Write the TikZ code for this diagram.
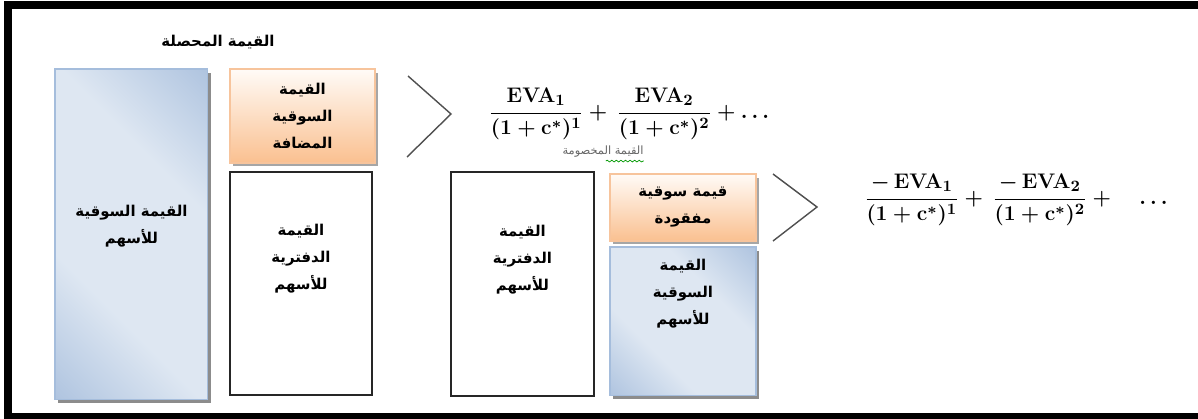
\documentclass[tikz,border=0pt]{standalone}
\usepackage{fontspec}
\usepackage{amsmath}
\newfontfamily\arabicfont[Script=Arabic]{DejaVu Sans}
\TeXXeTstate=1
\usetikzlibrary{positioning, calc, shadows, decorations.pathmorphing}

\definecolor{bluedk}{RGB}{143,172,211}
\definecolor{bluelt}{RGB}{222,231,242}
\definecolor{orgdk}{RGB}{250,192,144}
\definecolor{orglt}{RGB}{255,251,247}
\definecolor{orgline}{RGB}{247,196,156}
\definecolor{chevgray}{RGB}{80,80,80}

\pgfdeclarehorizontalshading{bluediag}{100bp}{color(0bp)=(bluedk); color(36bp)=(bluelt); color(64bp)=(bluelt); color(100bp)=(bluedk)}

\newcommand{\artext}[1]{\beginR#1\endR}

\begin{document}
\begin{tikzpicture}[x=0.02cm, y=-0.02cm,
    box/.style={rectangle, inner sep=0pt, outer sep=0pt},
    bluebox/.style={box, draw=bluedk!80, line width=0.6pt,
                    shading=bluediag, shading angle=45,
                    drop shadow={shadow xshift=0.06cm, shadow yshift=-0.07cm,
                                 fill=black!45, opacity=1}},
    orangebox/.style={box, draw=orgline, line width=0.6pt,
                    top color=orglt, bottom color=orgdk,
                    drop shadow={shadow xshift=0.06cm, shadow yshift=-0.07cm,
                                 fill=black!35, opacity=1},
                    align=center, font=\arabicfont\bfseries\fontsize{8.5}{15.4}\selectfont},
    bookbox/.style={box, draw=black!85, line width=0.9pt, fill=white},
    artxt/.style={align=center, inner sep=0pt,
                  font=\arabicfont\bfseries\fontsize{8.5}{15.4}\selectfont},
    formula/.style={inner sep=0pt, font=\boldmath\fontsize{13}{16}\selectfont},
    chev/.style={draw=chevgray, line width=0.8pt},
  ]
    \useasboundingbox (0,0) rectangle (1198,419);

    % -- frame --------------------------------------
    \fill[black] (4,1) rectangle (1198,419);
    \fill[white] (12,9) rectangle (1198,413);

    % -- left column: market value ------------------
    \node[artxt] (total) at (218,42) {\artext{القيمة المحصلة}};
    \node[bluebox, anchor=north west, minimum width=3.06cm, minimum height=6.62cm]
        (mktA) at (55,69) {};
    \node[artxt] (mktAtxt) at ($(mktA.north)+(0,157)$)
        {\artext{القيمة السوقية}\\\artext{للأسهم}};

    \node[orangebox, anchor=north west, minimum width=2.9cm, minimum height=1.88cm]
        (added) at (230,69) {\artext{القيمة}\\\artext{السوقية}\\\artext{المضافة}};
    \node[bookbox, minimum width=2.84cm, minimum height=4.46cm,
          below=0.18cm of added.south west, anchor=north west] (bookA) {};
    \node[artxt] (bookAtxt) at ($(bookA.north)+(0,87)$)
        {\artext{القيمة}\\\artext{الدفترية}\\\artext{للأسهم}};

    % -- added value and its discounted sum ---------
    \coordinate (chA1) at (408,76);
    \coordinate (chA2) at (451,114);
    \coordinate (chA3) at (407,157);
    \draw[chev] (chA1) -- (chA2) -- (chA3);

    \node[formula] (evaplus) at (631,114)
        {$\dfrac{\mathbf{EVA}_1}{(1+\mathbf{c}^{*})^1}+\,\dfrac{\mathbf{EVA}_2}{(1+\mathbf{c}^{*})^2}+\dots$};
    \node[inner sep=0pt, text=black!60, font=\arabicfont\fontsize{6.5}{8}\selectfont]
        (disc) at (603,152) {\artext{القيمة المخصومة}};
    \draw[green!60!black, line width=0.4pt, decorate,
          decoration={snake, amplitude=0.5pt, segment length=2.6pt}]
        ($(disc.south east)+(-38,3)$) -- ($(disc.south east)+(0,3)$);

    % -- right part: lost value ---------------------
    \node[bookbox, anchor=north west, minimum width=2.86cm, minimum height=4.48cm]
        (bookB) at (451,172) {};
    \node[artxt] (bookBtxt) at ($(bookB.north)+(0,88)$)
        {\artext{القيمة}\\\artext{الدفترية}\\\artext{للأسهم}};

    \node[orangebox, anchor=north west, minimum width=2.92cm, minimum height=1.34cm]
        (lost) at (610,174) {\artext{قيمة سوقية}\\\artext{مفقودة}};
    \node[bluebox, anchor=north west, minimum width=2.92cm, minimum height=2.98cm]
        (mktB) at (610,247) {};
    \node[artxt] (mktBtxt) at ($(mktB.north)+(0,47)$)
        {\artext{القيمة}\\\artext{السوقية}\\\artext{للأسهم}};

    \coordinate (chB1) at (773,174);
    \coordinate (chB2) at (817,207);
    \coordinate (chB3) at (773,241);
    \draw[chev] (chB1) -- (chB2) -- (chB3);

    \node[formula] (evaminus) at (1018,200)
        {$\dfrac{-\,\mathbf{EVA}_1}{(1+\mathbf{c}^{*})^1}+\,\dfrac{-\,\mathbf{EVA}_2}{(1+\mathbf{c}^{*})^2}+\quad\dots$};
\end{tikzpicture}
\end{document}
